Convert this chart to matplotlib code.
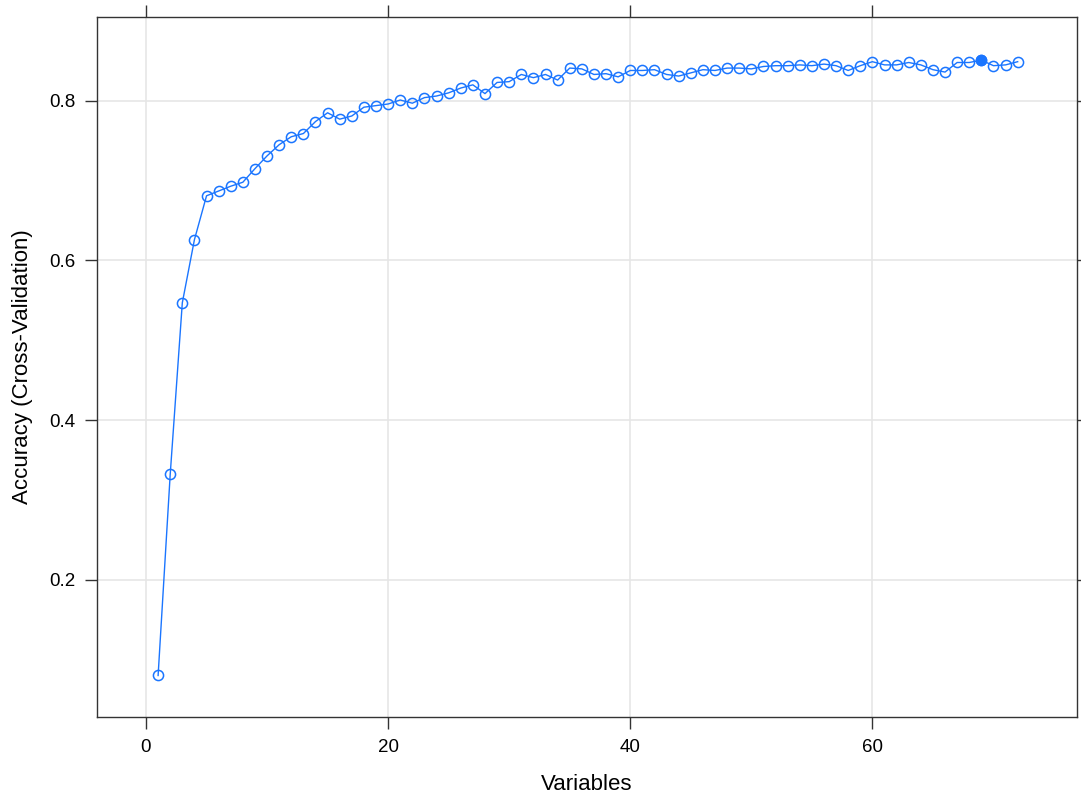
import numpy as np
import matplotlib
matplotlib.use("Agg")
from matplotlib import pyplot as plt

plt.rcParams['font.family'] = ['Liberation Sans', 'DejaVu Sans']

# number of variables vs. cross-validated accuracy
variables = np.arange(1, 73)
accuracy = [
    0.080, 0.332, 0.547, 0.626, 0.681, 0.687, 0.693, 0.698, 0.715, 0.731,
    0.745, 0.755, 0.759, 0.774, 0.785, 0.777, 0.781, 0.792, 0.794, 0.796,
    0.801, 0.797, 0.804, 0.806, 0.810, 0.816, 0.820, 0.809, 0.823, 0.824,
    0.833, 0.829, 0.833, 0.826, 0.841, 0.840, 0.833, 0.834, 0.830, 0.838,
    0.838, 0.839, 0.833, 0.831, 0.835, 0.839, 0.838, 0.841, 0.841, 0.840,
    0.843, 0.844, 0.844, 0.845, 0.844, 0.846, 0.844, 0.838, 0.844, 0.849,
    0.845, 0.845, 0.848, 0.845, 0.839, 0.836, 0.848, 0.848, 0.851, 0.844,
    0.845, 0.849,
]
best = 69  # selected subset size (filled point)

xticks = [0, 20, 40, 60]
yticks = [0.2, 0.4, 0.6, 0.8]

col = '#1a75ff'

fig = plt.figure(figsize=(10.81, 7.98), dpi=100)
ax = fig.add_axes([0.0897, 0.1015, 0.9066, 0.8772])

ax.plot(variables, accuracy, color=col, lw=1.0, marker='o', ms=7.3,
        mfc='none', mec=col, mew=1.1)
i = best - 1
ax.plot(variables[i], accuracy[i], 'o', color=col, ms=7.3)

ax.set_xlim(-4.05, 76.9)
ax.set_ylim(0.028, 0.905)
ax.set_xticks(xticks)
ax.set_yticks(yticks)
ax.set_yticklabels([f'{t:.1f}' for t in yticks])
ax.grid(True, color='#e6e6e6', lw=1.2)
ax.set_axisbelow(True)

ax.tick_params(direction='out', length=8.5, width=1, color='#333333',
               labelsize=13.5, top=True, right=True,
               labeltop=False, labelright=False, pad=7)
for s in ax.spines.values():
    s.set_color('#333333')
    s.set_linewidth(1.0)

ax.set_xlabel('Variables', fontsize=16, labelpad=13)
ax.set_ylabel('Accuracy (Cross-Validation)', fontsize=16, labelpad=12)

fig.savefig('out.png', dpi=100)
